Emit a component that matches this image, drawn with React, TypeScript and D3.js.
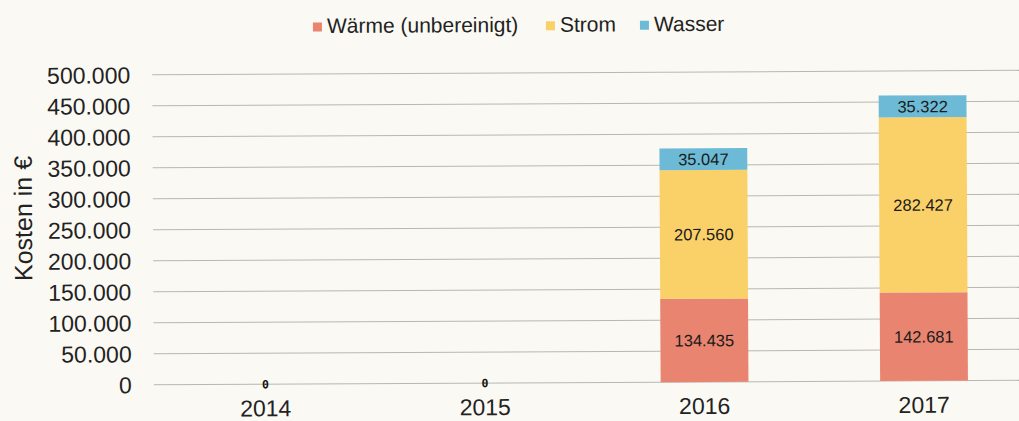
import React from "react";
import * as d3 from "d3";

const categories = ["2014", "2015", "2016", "2017"];
const waerme = [0, 0, 134435, 142681];
const strom = [0, 0, 207560, 282427];
const wasser = [0, 0, 35047, 35322];
const seriesNames = ["Wärme (unbereinigt)", "Strom", "Wasser"];
const seriesColors = ["#e8846f", "#fad069", "#6cbad6"];
const yTicks = [0, 50000, 100000, 150000, 200000, 250000, 300000, 350000, 400000, 450000, 500000];

const W = 1019;
const H = 421;
const fmt = (v: number) => d3.format(",")(v).replace(/,/g, ".");

export default function App() {
  const x = d3.scaleBand().domain(categories).range([155, 1033]).paddingInner(0.6).paddingOuter(0.3);
  const y = d3.scaleLinear().domain([0, 500000]).range([383, 73]);
  const seriesVals = [waerme, strom, wasser];
  const rows = categories.map((c, i) => ({ cat: c, s0: waerme[i], s1: strom[i], s2: wasser[i] }));
  const stack = d3.stack<any>().keys(["s0", "s1", "s2"])(rows);
  const legendX = [314, 547, 641];

  return (
    <svg width={W} height={H} style={{ position: "absolute", left: 0, top: 0, background: "#fbf9f3" }}
      fontFamily="'Liberation Sans', Arial, sans-serif">
      <rect x={0} y={0} width={W} height={H} fill="#fbf9f3" />
      <g transform="rotate(-0.3, 510, 230)">
        {yTicks.map((t) => (
          <g key={t}>
            <line x1={153} x2={W + 20} y1={y(t)} y2={y(t)} stroke="#b9b7b1" strokeWidth={1} />
            <text x={131} y={y(t)} dy="0.36em" textAnchor="end" fontSize={23} fill="#222">{fmt(t)}</text>
          </g>
        ))}
        <text transform={`translate(32,216) rotate(-90)`} textAnchor="middle" fontSize={25} fill="#222">Kosten in €</text>
        {stack.map((s, si) =>
          s.map((d, i) => {
            const v = seriesVals[si][i];
            if (v === 0) return null;
            const x0 = x(categories[i])!;
            return (
              <g key={`${si}-${i}`}>
                <rect x={x0} y={y(d[1])} width={x.bandwidth()} height={y(d[0]) - y(d[1])} fill={seriesColors[si]} />
                <text x={x0 + x.bandwidth() / 2} y={(y(d[0]) + y(d[1])) / 2} dy="0.36em" textAnchor="middle" fontSize={16.5} fill="#1a1a1a">{fmt(v)}</text>
              </g>
            );
          })
        )}
        {categories.map((c, i) => {
          const total = waerme[i] + strom[i] + wasser[i];
          return (
            <g key={c}>
              {total === 0 && (
                <text x={x(c)! + x.bandwidth() / 2} y={y(0)} dy="0.36em" textAnchor="middle" fontSize={11.5} fontWeight="bold"
                  fontFamily="'DejaVu Sans Mono', monospace" fill="#111">0</text>
              )}
              <text x={x(c)! + x.bandwidth() / 2} y={415} textAnchor="middle" fontSize={23} fill="#222">{c}</text>
            </g>
          );
        })}
        {seriesNames.map((n, i) => (
          <g key={n}>
            <rect x={legendX[i]} y={21.5} width={9} height={9} fill={seriesColors[i]} />
            <text x={legendX[i] + 14} y={32} fontSize={21} fill="#222">{n}</text>
          </g>
        ))}
      </g>
    </svg>
  );
}
